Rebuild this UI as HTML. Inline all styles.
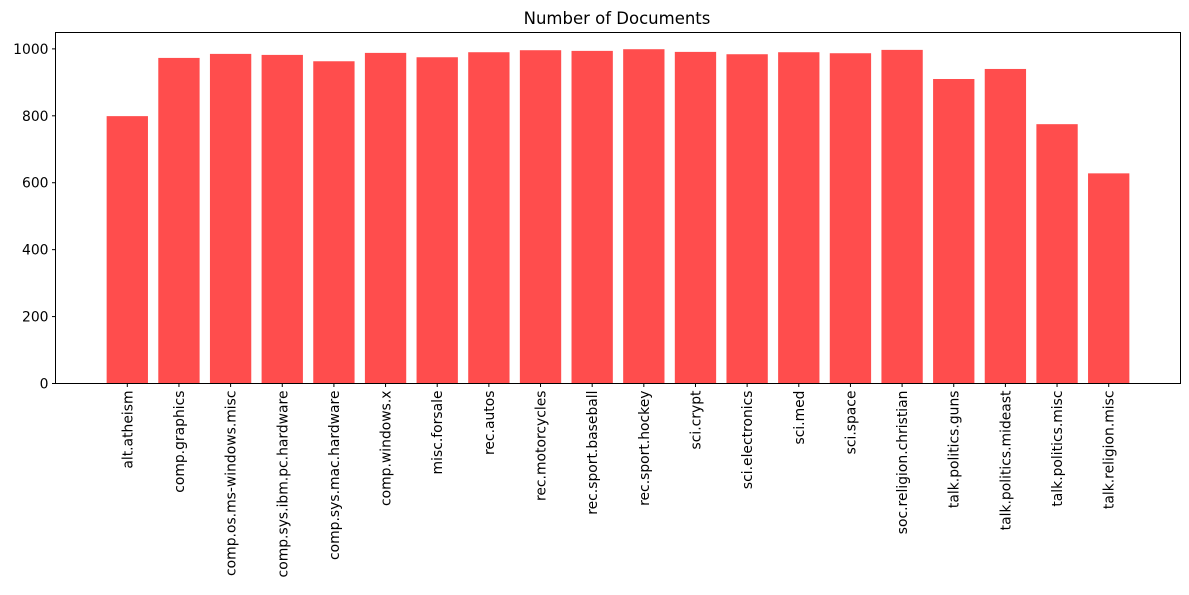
<!DOCTYPE html>
<html><head><meta charset="utf-8"><style>
body{margin:0;background:#fff;font-family:"Liberation Sans","DejaVu Sans",sans-serif;}
svg text{font-family:"DejaVu Sans","Liberation Sans",sans-serif;}
</style></head><body>
<svg id="chart" width="1189" height="590" xmlns="http://www.w3.org/2000/svg">
<text x="617" y="24" text-anchor="middle" font-size="16.5">Number of Documents</text>
<g id="bars"></g><g id="xt"></g><g id="yt"></g>
<rect x="55.5" y="32.5" width="1125" height="351" fill="none" stroke="#000" stroke-width="1"/>
</svg>
<script>
const categories=["alt.atheism","comp.graphics","comp.os.ms-windows.misc","comp.sys.ibm.pc.hardware","comp.sys.mac.hardware","comp.windows.x","misc.forsale","rec.autos","rec.motorcycles","rec.sport.baseball","rec.sport.hockey","sci.crypt","sci.electronics","sci.med","sci.space","soc.religion.christian","talk.politics.guns","talk.politics.mideast","talk.politics.misc","talk.religion.misc"];
const counts=[799,973,985,982,963,988,975,990,996,994,999,991,984,990,987,997,910,940,775,628];
const yTicks=[0,200,400,600,800,1000];
const NS="http://www.w3.org/2000/svg";
const L=55.5,R=1180.5,T=32.5,B=383.5;
const n=categories.length;
const maxV=Math.max(...counts)*1.05;
const xlo=-0.4-0.05*(n-0.2),xhi=n-0.6+0.05*(n-0.2);
const x=v=>L+(v-xlo)/(xhi-xlo)*(R-L);
const y=v=>B-v/maxV*(B-T);
function mk(t,a,p){const e=document.createElementNS(NS,t);for(const k in a)e.setAttribute(k,a[k]);p.appendChild(e);return e;}
const gb=document.getElementById('bars'),gx=document.getElementById('xt'),gy=document.getElementById('yt');
counts.forEach((c,i)=>{
 const r=mk('rect',{x:x(i-0.4),y:y(c),width:x(i+0.4)-x(i-0.4),height:B-y(c),fill:'rgb(255,77,77)'},gb);
 
 
 const tk=mk('line',{x1:x(i),x2:x(i),y1:B,y2:B+3.5,stroke:'#000'},gx);
 
 
 const t=mk('text',{x:0,y:0,'font-size':'13.9','text-anchor':'end',transform:`translate(${x(i)+5},${B+7}) rotate(-90)`},gx);
 t.textContent=categories[i];
 
 
});
yTicks.forEach(v=>{
 const tk=mk('line',{x1:L-3.5,x2:L,y1:y(v),y2:y(v),stroke:'#000'},gy);
 
 
 const t=mk('text',{x:L-7,y:y(v)+5,'font-size':'13.9','text-anchor':'end'},gy);
 t.textContent=v;
 
 
});
</script>
</body></html>
